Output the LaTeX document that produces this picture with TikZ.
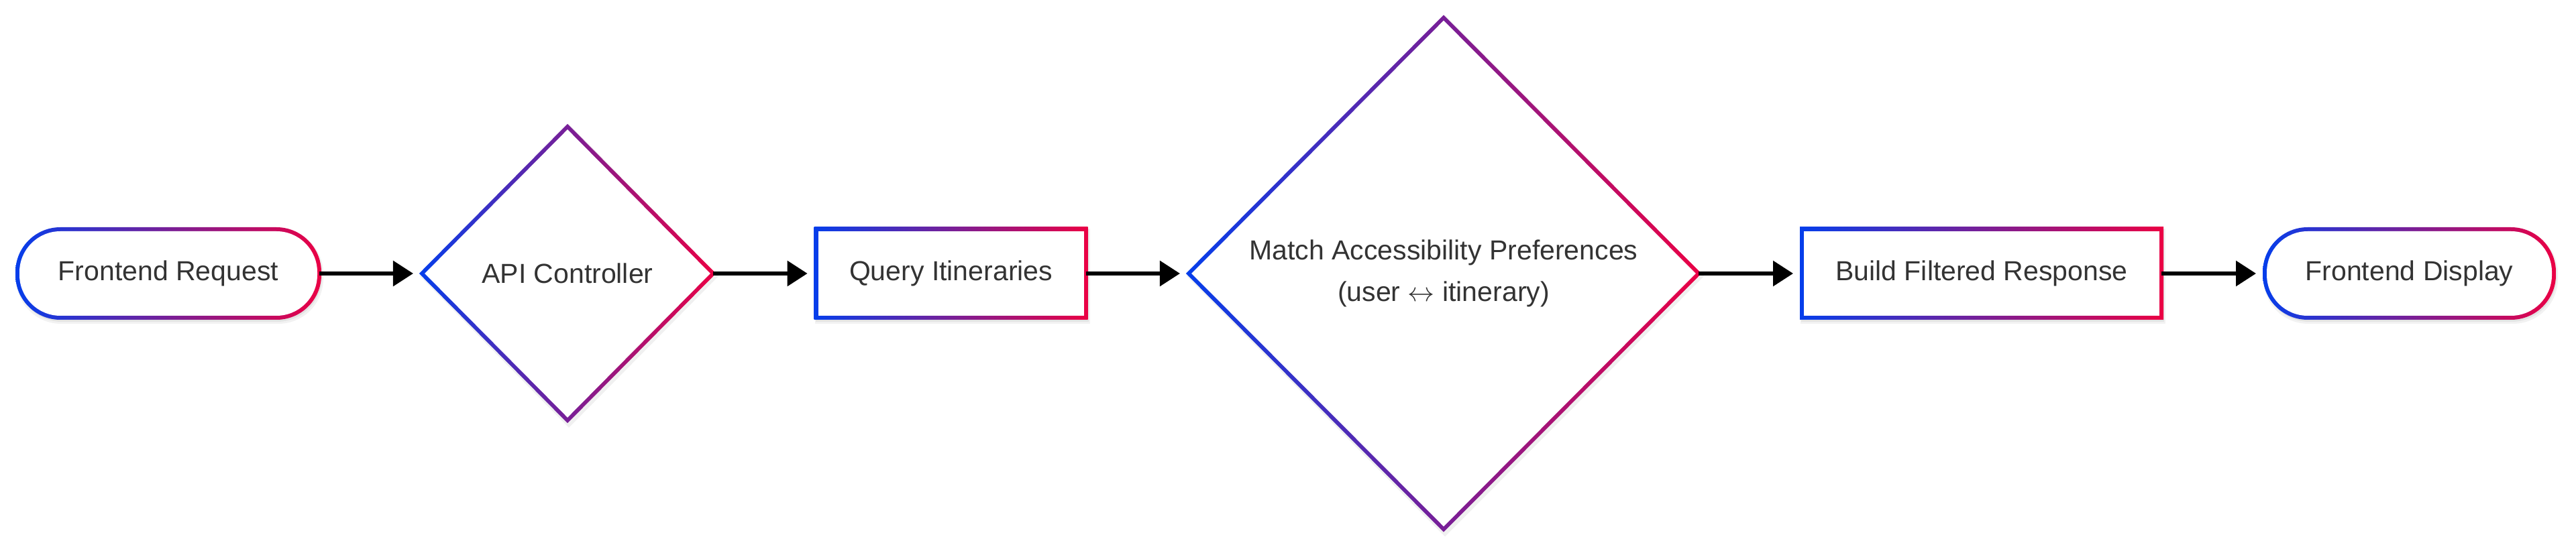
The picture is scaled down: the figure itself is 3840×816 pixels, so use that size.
\documentclass[tikz,border=0pt]{standalone}
\usepackage{fontspec}
\setmainfont{Liberation Sans}
\usetikzlibrary{shapes.geometric,arrows.meta,calc,backgrounds}
\definecolor{gb}{RGB}{5,62,235}
\definecolor{gr}{RGB}{235,0,68}
\definecolor{txtgray}{RGB}{51,51,51}

% gradient-stroked rectangle / stadium around node #1
% #2 = style of outer corners, #3 = style of inner corners
\newcommand\gradbox[3]{%
  \fill[black,opacity=.05,#2] ($(#1.south west)+(-2pt,-9pt)$) rectangle ($(#1.north east)+(6pt,1pt)$);
  \fill[black,opacity=.06,#2] ($(#1.south west)+(-1pt,-6pt)$) rectangle ($(#1.north east)+(4pt,0pt)$);
  \begin{scope}
    \clip[#2] ($(#1.south west)+(-3pt,-3pt)$) rectangle ($(#1.north east)+(3pt,3pt)$);
    \shade[left color=gb,right color=gr] ($(#1.south west)+(-3pt,-3pt)$) rectangle ($(#1.north east)+(3pt,3pt)$);
  \end{scope}
  \fill[white,#3] ($(#1.south west)+(3pt,3pt)$) rectangle ($(#1.north east)+(-3pt,-3pt)$);}

% gradient-stroked diamond around node #1
\newcommand\graddia[1]{%
  \fill[black,opacity=.06] ($(#1.east)+(8pt,-4pt)$) -- ($(#1.north)+(2pt,4pt)$) -- ($(#1.west)+(-3pt,-4pt)$) -- ($(#1.south)+(2pt,-11pt)$) -- cycle;
  \begin{scope}
    \clip ($(#1.east)+(4.2pt,0pt)$) -- ($(#1.north)+(0pt,4.2pt)$) -- ($(#1.west)+(-4.2pt,0pt)$) -- ($(#1.south)+(0pt,-4.2pt)$) -- cycle;
    \shade[left color=gb,right color=gr] ($(#1.west)+(-4.2pt,0pt)$) |- ($(#1.south)+(0pt,-4.2pt)$) -| ($(#1.east)+(4.2pt,0pt)$) |- ($(#1.north)+(0pt,4.2pt)$) -| cycle;
  \end{scope}
  \fill[white] ($(#1.east)+(-4.2pt,0pt)$) -- ($(#1.north)+(0pt,-4.2pt)$) -- ($(#1.west)+(4.2pt,0pt)$) -- ($(#1.south)+(0pt,4.2pt)$) -- cycle;}

\newcommand\lrarrow{\resizebox{40pt}{!}{$\leftrightarrow$}}

\begin{document}
\begin{tikzpicture}[x=1pt,y=1pt,
  lbl/.style={font=\fontsize{41}{62}\selectfont, text=txtgray, align=center, inner sep=0pt, outer sep=0pt},
  boxshape/.style={lbl, rectangle, minimum height=132pt},
  dia/.style={lbl, diamond, aspect=1},
  arr/.style={line width=6pt, -{Triangle[length=30pt,width=37pt]}, shorten >=13pt},
  stout/.style={rounded corners=67pt},
  stin/.style={rounded corners=61pt}
]
\useasboundingbox (0,0) rectangle (3840,816);

\node[boxshape, minimum width=450pt] (fr) at (251,408) {Frontend Request};
\node[dia, minimum width=434pt, minimum height=438pt] (api) at (846,408) {API Controller};
\node[boxshape, minimum width=402pt] (q) at (1417.6,408) {Query Itineraries};
\node[dia, minimum width=760pt, minimum height=763pt] (m) at (2152,408) {Match Accessibility Preferences\\(user \lrarrow{} itinerary)};
\node[boxshape, minimum width=536pt] (b) at (2954,408) {Build Filtered Response};
\node[boxshape, minimum width=431pt] (fd) at (3591.5,408) {Frontend Display};

\begin{pgfonlayer}{background}
  \fill[white] (0,0) rectangle (3840,816);
  \gradbox{fr}{stout}{stin}
  \graddia{api}
  \gradbox{q}{sharp corners}{sharp corners}
  \graddia{m}
  \gradbox{b}{sharp corners}{sharp corners}
  \gradbox{fd}{stout}{stin}
\end{pgfonlayer}

\draw[arr] (fr) -- (api);
\draw[arr] (api) -- (q);
\draw[arr] (q) -- (m);
\draw[arr] (m) -- (b);
\draw[arr] (b) -- (fd);
\end{tikzpicture}
\end{document}
